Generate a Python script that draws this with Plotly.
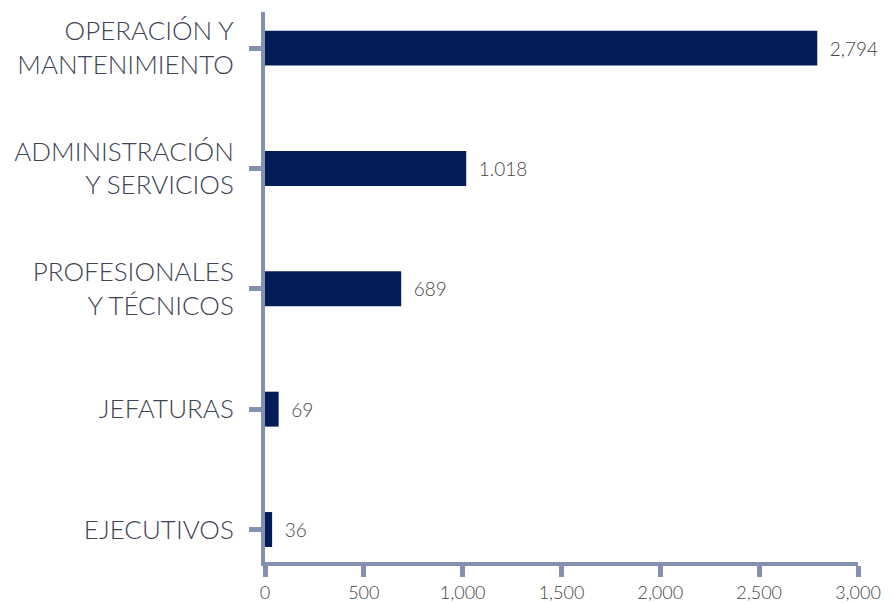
import plotly.graph_objects as go

# Headcount by job category
categories = [
    "OPERACIÓN Y<br>MANTENIMIENTO",
    "ADMINISTRACIÓN<br>Y SERVICIOS",
    "PROFESIONALES<br>Y TÉCNICOS",
    "JEFATURAS",
    "EJECUTIVOS",
]
values = [2794, 1018, 689, 69, 36]
value_labels = ["2,794", "1.018", "689", "69", "36"]
x_ticks = [0, 500, 1000, 1500, 2000, 2500, 3000]
x_tick_labels = ["0", "500", "1,000", "1,500", "2,000", "2,500", "3,000"]

AXIS_COLOR = "#8490b0"
BAR_COLOR = "#031d5b"
FONT = "Lato"

fig = go.Figure(
    go.Bar(
        x=values,
        y=categories,
        orientation="h",
        width=0.29,
        marker=dict(color=BAR_COLOR, line=dict(width=0)),
        text=value_labels,
        texttemplate="\u2002%{text}",
        textposition="outside",
        cliponaxis=False,
        textfont=dict(family=FONT, size=19, color="#444444", weight=300),
        hoverinfo="skip",
    )
)

fig.update_layout(
    width=893,
    height=603,
    margin=dict(l=265, r=35, t=12, b=41),
    paper_bgcolor="white",
    plot_bgcolor="white",
    showlegend=False,
    font=dict(family=FONT, weight=300),
    xaxis=dict(
        range=[0, 3000],
        tickvals=x_ticks,
        ticktext=x_tick_labels,
        showgrid=False,
        zeroline=False,
        showline=True,
        linecolor=AXIS_COLOR,
        linewidth=4,
        ticks="outside",
        ticklen=11,
        tickwidth=5,
        tickcolor=AXIS_COLOR,
        tickfont=dict(family=FONT, size=18, color="#444444", weight=300),
        automargin=False,
        fixedrange=True,
    ),
    yaxis=dict(
        type="category",
        categoryorder="array",
        categoryarray=categories,
        range=[4.27, -0.3],
        showgrid=False,
        zeroline=False,
        showline=True,
        linecolor=AXIS_COLOR,
        linewidth=4,
        ticks="outside",
        ticklen=12,
        tickwidth=5,
        tickcolor=AXIS_COLOR,
        ticklabelstandoff=10,
        tickfont=dict(family=FONT, size=26, color="#3d4453", weight=300),
        automargin=False,
        fixedrange=True,
    ),
)

fig.write_html("out.html")
